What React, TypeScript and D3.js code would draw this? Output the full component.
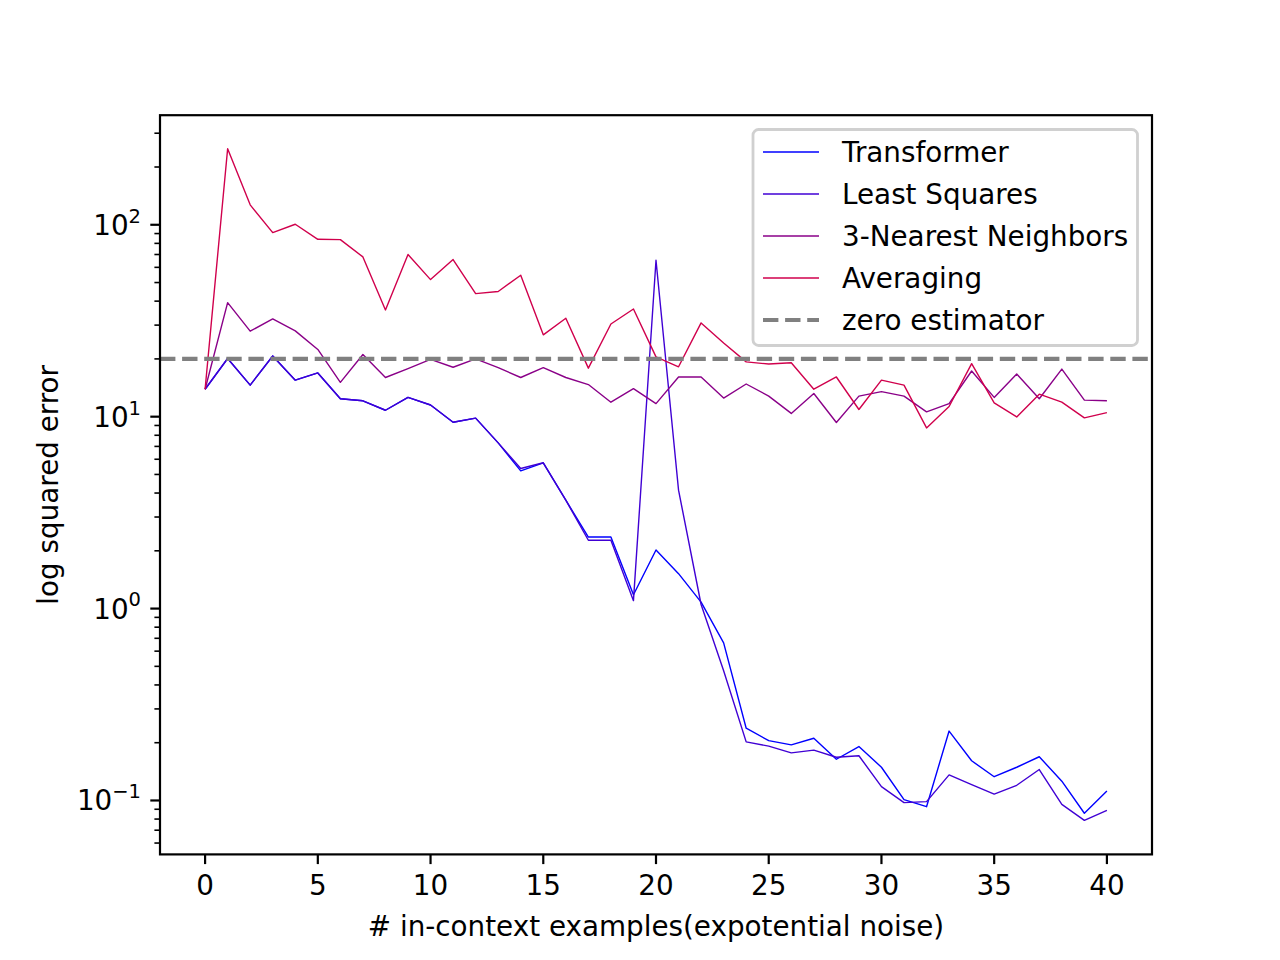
// @ts-nocheck
import React, { useEffect } from "react";
import { scaleLinear, scaleLog, line } from "d3";

const examples = [0, 1, 2, 3, 4, 5, 6, 7, 8, 9, 10, 11, 12, 13, 14, 15, 16, 17, 18, 19, 20, 21, 22, 23, 24, 25, 26, 27, 28, 29, 30, 31, 32, 33, 34, 35, 36, 37, 38, 39, 40];

const transformer = [13.9, 20.1, 14.6, 20.7, 15.5, 16.9, 12.4, 12.1, 10.8, 12.6, 11.5, 9.36, 9.83, 7.3, 5.22, 5.75, 3.67, 2.36, 2.36, 1.18, 2.02, 1.52, 1.08, 0.663, 0.238, 0.205, 0.195, 0.211, 0.164, 0.191, 0.149, 0.101, 0.0928, 0.23, 0.161, 0.133, 0.149, 0.169, 0.126, 0.0858, 0.112];
const leastSquares = [13.9, 20.1, 14.6, 20.7, 15.5, 16.9, 12.4, 12.1, 10.8, 12.6, 11.5, 9.36, 9.83, 7.3, 5.37, 5.75, 3.67, 2.27, 2.27, 1.1, 65.3, 4.14, 1.05, 0.474, 0.202, 0.192, 0.177, 0.183, 0.168, 0.171, 0.118, 0.0974, 0.0986, 0.136, 0.121, 0.108, 0.12, 0.145, 0.0955, 0.0788, 0.0889];
const nearest3 = [13.9, 39.3, 27.9, 32.3, 28, 22.4, 15.1, 21.1, 16, 17.8, 19.9, 18.1, 20, 18, 16, 18, 16, 14.7, 11.9, 14, 11.7, 16.1, 16.1, 12.5, 14.8, 12.8, 10.4, 13.2, 9.33, 12.8, 13.5, 12.8, 10.6, 11.7, 17.3, 12.6, 16.7, 12.4, 17.7, 12.2, 12.1];
const averaging = [13.9, 249, 127, 91, 100.6, 84, 83.7, 68, 36, 70, 51.8, 65.9, 43.8, 44.9, 54.6, 26.7, 32.6, 17.9, 30.4, 36.4, 20.5, 18.2, 30.8, 24.2, 19.3, 18.8, 19.1, 13.9, 16.1, 10.9, 15.5, 14.6, 8.74, 11.3, 18.9, 11.8, 9.97, 13.1, 11.9, 9.86, 10.5];
const zeroEstimator = 20;

const xTicks = [0, 5, 10, 15, 20, 25, 30, 35, 40];
const yMajor = [0.1, 1, 10, 100];
const yExponents = ["\u22121", "0", "1", "2"];

const series = [
  { name: "Transformer", values: transformer, color: "#0000ff" },
  { name: "Least Squares", values: leastSquares, color: "#4000d4" },
  { name: "3-Nearest Neighbors", values: nearest3, color: "#8a0088" },
  { name: "Averaging", values: averaging, color: "#d0004c" },
];

const W = 1280;
const H = 960;
const left = 160, right = 1152, top = 115.2, bottom = 854.4;
const font = "DejaVu Sans, sans-serif";

export default function App() {
  useEffect(() => {
    document.body.style.margin = "0";
  }, []);

  const x = scaleLinear().domain([-2, 42]).range([left, right]);
  const y = scaleLog().domain([Math.pow(10, -1.281), Math.pow(10, 2.571)]).range([bottom, top]);

  const path = line()
    .x((d, i) => x(examples[i]))
    .y((d) => y(d));

  // minor ticks 2..9 per decade that fall inside the domain
  const [lo, hi] = y.domain();
  const minor = [];
  for (let e = -2; e <= 2; e++) {
    for (let m = 2; m <= 9; m++) {
      const v = m * Math.pow(10, e);
      if (v >= lo && v <= hi) minor.push(v);
    }
  }

  const legendRows = [...series.map((s) => ({ name: s.name, color: s.color, dash: null, w: 1.4 })), { name: "zero estimator", color: "#808080", dash: "15.4,6.7", w: 4.2 }];

  return (
    <svg width={W} height={H} style={{ display: "block", background: "#fff" }}>
      {/* y minor ticks */}
      {minor.map((v, i) => (
        <line key={"m" + i} x1={left} x2={left - 5.6} y1={y(v)} y2={y(v)} stroke="#000" strokeWidth={1.6} />
      ))}
      {/* y major ticks and labels */}
      {yMajor.map((v, i) => (
        <g key={"y" + i}>
          <line x1={left} x2={left - 9.7} y1={y(v)} y2={y(v)} stroke="#000" strokeWidth={2.2} />
          <text x={141} y={y(v)} dy="0.36em" textAnchor="end" fontFamily={font} fontSize={27.8} fill="#000">
            10
            <tspan fontSize={19.5} dy="-0.62em">{yExponents[i]}</tspan>
          </text>
        </g>
      ))}
      {/* x ticks */}
      {xTicks.map((t) => (
        <g key={"x" + t}>
          <line x1={x(t)} x2={x(t)} y1={bottom} y2={bottom + 9.7} stroke="#000" strokeWidth={2.2} />
          <text x={x(t)} y={bottom + 19.4} dy="0.76em" textAnchor="middle" fontFamily={font} fontSize={27.8} fill="#000">
            {t}
          </text>
        </g>
      ))}

      {series.map((s) => (
        <path key={s.name} d={path(s.values)} fill="none" stroke={s.color} strokeWidth={1.4} strokeLinejoin="round" />
      ))}
      <line x1={left} x2={right} y1={y(zeroEstimator)} y2={y(zeroEstimator)} stroke="#808080" strokeWidth={4.2} strokeDasharray="15.4,6.7" />

      {/* frame */}
      <rect x={left} y={top} width={right - left} height={bottom - top} fill="none" stroke="#000" strokeWidth={2.2} />

      {/* legend */}
      <rect x={753} y={129.5} width={384.5} height={216} rx={5.6} fill="#fff" fillOpacity={0.8} stroke="#d0d0d0" strokeWidth={2.8} />
      {legendRows.map((r, i) => {
        const cy = 152 + i * 42;
        return (
          <g key={r.name}>
            <line x1={763} x2={819} y1={cy} y2={cy} stroke={r.color} strokeWidth={r.w} strokeDasharray={r.dash || undefined} />
            <text x={842} y={cy} dy="0.36em" fontFamily={font} fontSize={27.8} fill="#000">
              {r.name}
            </text>
          </g>
        );
      })}

      {/* axis labels */}
      <text x={(left + right) / 2} y={936} textAnchor="middle" fontFamily={font} fontSize={27.8} fill="#000">
        # in-context examples(expotential noise)
      </text>
      <text transform={`translate(58,${(top + bottom) / 2}) rotate(-90)`} textAnchor="middle" fontFamily={font} fontSize={27.8} fill="#000">
        log squared error
      </text>
    </svg>
  );
}
